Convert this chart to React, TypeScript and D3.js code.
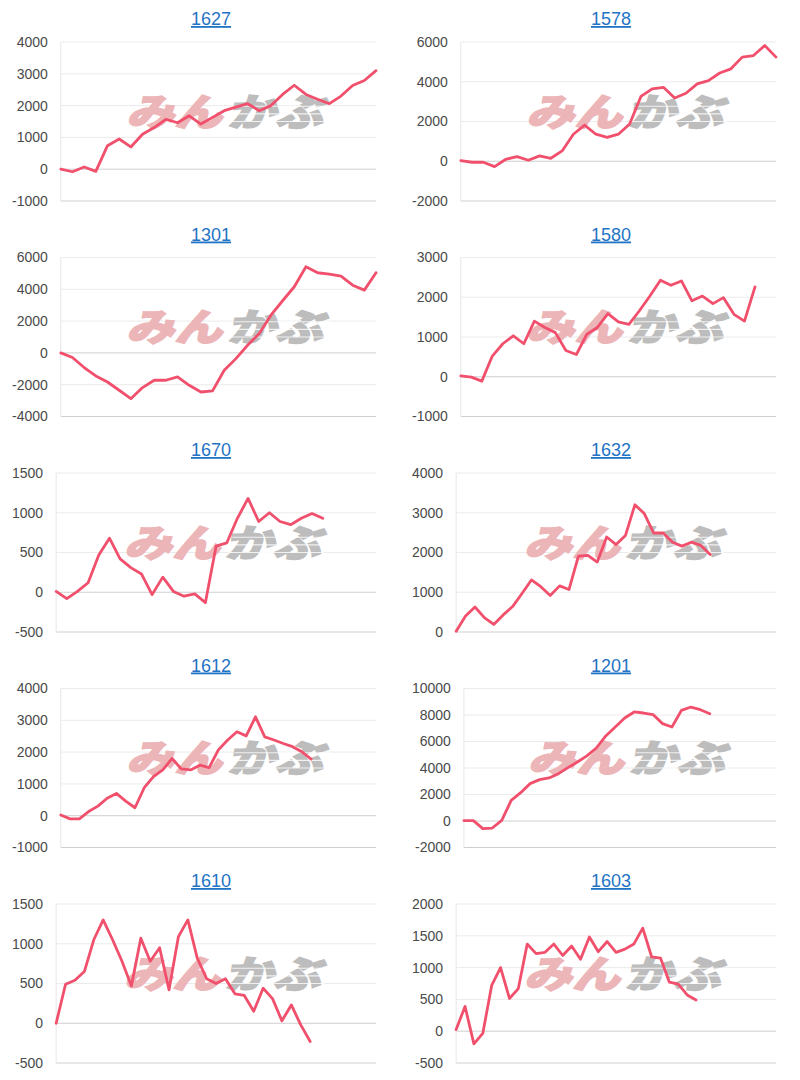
import * as d3 from "d3";

// chart codes in reading order (left, right, left, right ...)
const codes = ["1627", "1578", "1301", "1580", "1670", "1632", "1612", "1201", "1610", "1603"];

// number of x slots on each chart's axis (shorter series stop early)
const slotCounts = [28, 29, 28, 31, 31, 35, 35, 34, 35, 37];

const values1627 = [0, -80, 70, -70, 740, 950, 700, 1100, 1310, 1570, 1460, 1680, 1420, 1630, 1840, 1950, 2060, 1840, 2000, 2350, 2640, 2350, 2200, 2060, 2300, 2630, 2790, 3100];
const values1578 = [30, -50, -50, -270, 100, 230, 50, 270, 150, 520, 1360, 1820, 1360, 1200, 1360, 1870, 3260, 3640, 3720, 3180, 3420, 3890, 4060, 4440, 4650, 5240, 5320, 5820, 5240];
const values1301 = [0, -290, -920, -1450, -1830, -2350, -2880, -2180, -1720, -1720, -1510, -2040, -2460, -2390, -1090, -360, 480, 1220, 2370, 3280, 4160, 5420, 5040, 4960, 4830, 4260, 3950, 5040];
const values1580 = [20, -10, -110, 520, 830, 1030, 830, 1400, 1240, 1110, 660, 560, 1070, 1240, 1590, 1380, 1320, 1660, 2030, 2430, 2300, 2410, 1910, 2030, 1840, 1990, 1570, 1400, 2260];
const values1670 = [10, -80, 10, 120, 470, 680, 420, 310, 230, -30, 190, 10, -50, -20, -130, 580, 620, 930, 1180, 890, 1000, 890, 850, 930, 990, 930];
const values1632 = [20, 400, 630, 360, 190, 430, 640, 970, 1310, 1140, 920, 1160, 1070, 1910, 1930, 1760, 2390, 2200, 2430, 3200, 2980, 2490, 2490, 2260, 2160, 2260, 2180, 1950];
const values1612 = [20, -100, -100, 130, 300, 550, 700, 460, 250, 880, 1230, 1440, 1800, 1470, 1440, 1590, 1510, 2070, 2380, 2640, 2510, 3110, 2480, 2380, 2270, 2170, 2010, 1780];
const values1201 = [30, 30, -580, -530, 50, 1560, 2140, 2820, 3120, 3250, 3570, 4030, 4450, 4910, 5510, 6420, 7090, 7770, 8230, 8150, 8030, 7350, 7090, 8350, 8600, 8400, 8100];
const values1610 = [0, 490, 540, 650, 1050, 1300, 1050, 780, 470, 1070, 780, 950, 420, 1090, 1300, 820, 560, 500, 560, 370, 350, 150, 440, 310, 30, 230, -20, -230];
const values1603 = [25, 390, -200, -35, 720, 1000, 515, 670, 1370, 1220, 1240, 1370, 1190, 1340, 1130, 1480, 1250, 1410, 1240, 1290, 1370, 1620, 1170, 1150, 770, 740, 570, 490];

const ticks1627 = [-1000, 0, 1000, 2000, 3000, 4000];
const ticks1578 = [-2000, 0, 2000, 4000, 6000];
const ticks1301 = [-4000, -2000, 0, 2000, 4000, 6000];
const ticks1580 = [-1000, 0, 1000, 2000, 3000];
const ticks1670 = [-500, 0, 500, 1000, 1500];
const ticks1632 = [0, 1000, 2000, 3000, 4000];
const ticks1612 = [-1000, 0, 1000, 2000, 3000, 4000];
const ticks1201 = [-2000, 0, 2000, 4000, 6000, 8000, 10000];
const ticks1610 = [-500, 0, 500, 1000, 1500];
const ticks1603 = [-500, 0, 500, 1000, 1500, 2000];

const seriesValues = [values1627, values1578, values1301, values1580, values1670, values1632, values1612, values1201, values1610, values1603];
const seriesTicks = [ticks1627, ticks1578, ticks1301, ticks1580, ticks1670, ticks1632, ticks1612, ticks1201, ticks1610, ticks1603];

const W = 800;
const H = 1080;
const ROW_STEP = 215.5;
const COL_STEP = 400;
const PLOT_TOP = 42;
const PLOT_H = 159;
const TICK_FS = 14;
const LINE_COLOR = "#f1506d";
const FONT = "Arial, 'Liberation Sans', sans-serif";

// rough Arial width of a tick label
const labelWidth = (s: string) =>
  s.split("").reduce((w, c) => w + (c === "-" ? 0.333 : 0.556) * TICK_FS, 0);

interface PanelProps {
  code: string;
  values: number[];
  ticks: number[];
  slots: number;
  x0: number;
  y0: number;
}

const Panel: React.FC<PanelProps> = ({ code, values, ticks, slots, x0, y0 }) => {
  const maxW = d3.max(ticks, (t) => labelWidth(String(t))) ?? 30;
  const left = x0 + 12 + maxW + 13;
  const right = x0 + 376;
  const top = y0 + PLOT_TOP;
  const bottom = top + PLOT_H;

  const x = d3.scaleLinear().domain([0, slots - 1]).range([left, right]);
  const y = d3.scaleLinear().domain(d3.extent(ticks) as [number, number]).range([bottom, top]);
  const line = d3.line<number>().x((_, i) => x(i)).y((d) => y(d));

  const cx = (left + right) / 2 + 10;
  const cy = top + PLOT_H * 0.44;

  return (
    <g>
      <text x={x0 + 211} y={y0 + 25} textAnchor="middle" fontFamily={FONT} fontSize={18}
        fill="#1f74c6" style={{ textDecoration: "underline" }}>
        {code}
      </text>
      {ticks.map((t) => (
        <g key={t}>
          <line x1={left} x2={right} y1={y(t)} y2={y(t)}
            stroke={t === 0 || t === ticks[0] ? "#cfcfcf" : "#ebebeb"} strokeWidth={1} />
          <text x={left - 13} y={y(t)} dy="0.35em" textAnchor="end" fontFamily={FONT}
            fontSize={TICK_FS} fill="#4a4a4a">
            {t}
          </text>
        </g>
      ))}
      <line x1={left} x2={left} y1={top} y2={bottom} stroke="#e6e6e6" strokeWidth={1} />
      {/* watermark logo */}
      <g transform={`translate(${cx},${cy}) skewX(-14) scale(1.2,0.95)`}
        fontFamily="'Noto Sans CJK JP', sans-serif" fontWeight={900} fontSize={40}>
        <text x={-2} dy="0.36em" textAnchor="end" fill="#ecb5b8" stroke="#ecb5b8" strokeWidth={1.6}>みん</text>
        <text x={2} dy="0.36em" textAnchor="start" fill="#bdbdbd" stroke="#bdbdbd" strokeWidth={1.6}>かぶ</text>
        {[-6, 2, 10].map((dy) => (
          <line key={dy} x1={4} x2={84} y1={dy} y2={dy} stroke="#fff" strokeWidth={1.2} opacity={0.8} />
        ))}
      </g>
      <path d={line(values) ?? ""} fill="none" stroke={LINE_COLOR} strokeWidth={2.8}
        strokeLinejoin="round" strokeLinecap="round" />
    </g>
  );
};

export default function App() {
  return (
    <svg width={W} height={H} style={{ position: "absolute", left: 0, top: 0, background: "#fff" }}>
      {codes.map((code, i) => (
        <Panel key={code} code={code} values={seriesValues[i]} ticks={seriesTicks[i]}
          slots={slotCounts[i]} x0={(i % 2) * COL_STEP} y0={Math.floor(i / 2) * ROW_STEP} />
      ))}
    </svg>
  );
}
